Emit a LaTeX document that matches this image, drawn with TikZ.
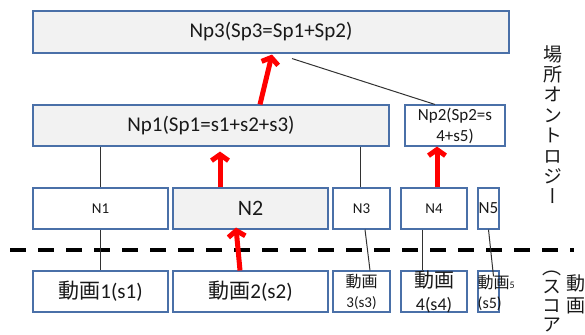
\documentclass[tikz,border=0pt]{standalone}
\usepackage{fontspec}
\setmainfont{Carlito}
\newfontfamily\jp{Noto Sans CJK JP}
\newfontfamily\jpv{Noto Sans CJK JP}[RawFeature=+vert]
\usetikzlibrary{arrows.meta,calc}
\definecolor{boxline}{RGB}{74,112,168}
\definecolor{boxfill}{RGB}{242,242,242}
\definecolor{linkc}{RGB}{50,50,50}
\definecolor{txt}{RGB}{25,25,25}
\newcommand\fsz[2]{\fontsize{#1pt}{#2pt}\selectfont}
\begin{document}
\begin{tikzpicture}[x=1pt,y=-1pt,
  box/.style={draw=boxline, line width=1.1pt, fill=white, inner sep=0pt, minimum height=41pt, text=txt, align=center},
  gbox/.style={box, fill=boxfill},
  lbl/.style={inner sep=0pt, text=txt, align=center},
  link/.style={draw=linkc, line width=1pt},
  redarrow/.style={draw=red, line width=5pt, -{Straight Barb[length=6pt,width=17pt]}},
  sep/.style={draw=black, line width=4pt, dash pattern=on 16pt off 12pt},
]
\useasboundingbox (0,0) rectangle (585,334);
% separator
\coordinate (dl) at (10,250);
\coordinate (dr) at (574,250);
\draw[sep] (dl) -- (dr);
% top level
\node[gbox, minimum width=476pt, minimum height=42pt, font=\fsz{21}{24}] (np3) at (271,32) {Np3(Sp3=Sp1+Sp2)};
\node[gbox, minimum width=356pt, font=\fsz{21}{24}] (np1) at (211,125.5) {Np1(Sp1=s1+s2+s3)};
\node[box, minimum width=100pt, font=\fsz{17}{21}] (np2) at (455,125.5) {Np2(Sp2=s\\4+s5)};
% N row
\node[box, minimum width=135pt, font=\fsz{15}{18}] (n1) at (100.5,208.5) {N1};
\node[gbox, minimum width=155pt, font=\fsz{22}{24}] (n2) at (250.5,208.5) {N2};
\node[box, minimum width=57pt, font=\fsz{15}{18}] (n3) at (361.5,208.5) {N3};
\node[box, minimum width=66pt, font=\fsz{15}{18}] (n4) at (434,208.5) {N4};
\node[box, minimum width=21pt, font=\fsz{17}{18}] (n5) at (488.5,208.5) {N5};
% video row
\node[box, minimum width=135pt, font=\fsz{21}{24}] (v1) at (100.5,291.5) {{\jp 動画}1(s1)};
\node[box, minimum width=155pt, font=\fsz{21}{24}] (v2) at (250.5,291.5) {{\jp 動画}2(s2)};
\node[box, minimum width=57pt, font=\fsz{16}{20}] (v3) at (361.5,291.5) {{\jp 動画}\\{\fsz{15}{20}3(s3)}};
\node[box, minimum width=66pt] (v4) at (434,291.5) {};
\node[box, minimum width=21pt] (v5) at (488.5,291.5) {};
\node[lbl, font=\fsz{20}{23}] (v4t) at (v4.center) {{\jp 動画}\\{\fsz{18}{23}4(s4)}};
\node[lbl, anchor=west, align=left, font=\fsz{16}{20}] (v5t) at ([yshift=-1pt]v5.west) {{\jp 動画}{\fsz{10}{12}5}\\(s5)};
% thin links
\draw[link] ([xshift=21pt,yshift=-5pt]np3.south) -- ([xshift=-20pt]np2.north);
\draw[link] (n1.north |- np1.south) -- (n1.north);
\path ([xshift=-1.5pt]n3.north) coordinate (n3top);
\draw[link] (n3top |- np1.south) -- (n3top);
\draw[link] (n1.south) -- (v1.north);
\draw[link] ([xshift=3.5pt]n3.south) -- ([xshift=8.5pt]v3.north);
\draw[link] ([xshift=-12pt]n4.south) -- ([xshift=-12pt]v4.north);
\draw[link] (n5.south) -- ([xshift=5pt,yshift=-6pt]v5.north);
% red arrows
\draw[redarrow] ([xshift=49pt]np1.north) -- ([xshift=1pt,yshift=-1pt]np3.south);
\draw[redarrow] ([xshift=-30.5pt]n2.north) -- ([xshift=9pt,yshift=-5pt]np1.south);
\draw[redarrow] ([xshift=3pt]n4.north) -- ([xshift=-18pt]np2.south);
\draw[redarrow] ([xshift=-10.5pt]v2.north) -- ([xshift=-14.5pt,yshift=2pt]n2.south);
% vertical labels
\node[lbl, anchor=north, font=\jpv\fsz{19}{20.4}] (vt1) at (553,45) {場\\所\\オ\\ン\\ト\\ロ\\ジ\\ー};
\node[lbl, anchor=north, font=\jpv\fsz{19}{22}] (vt2) at (576,275) {動\\画};
\node[lbl, anchor=north, font=\jpv\fsz{19}{19}] (vt3) at (552,271) {︵\\ス\\コ\\ア};
\end{tikzpicture}
\end{document}
